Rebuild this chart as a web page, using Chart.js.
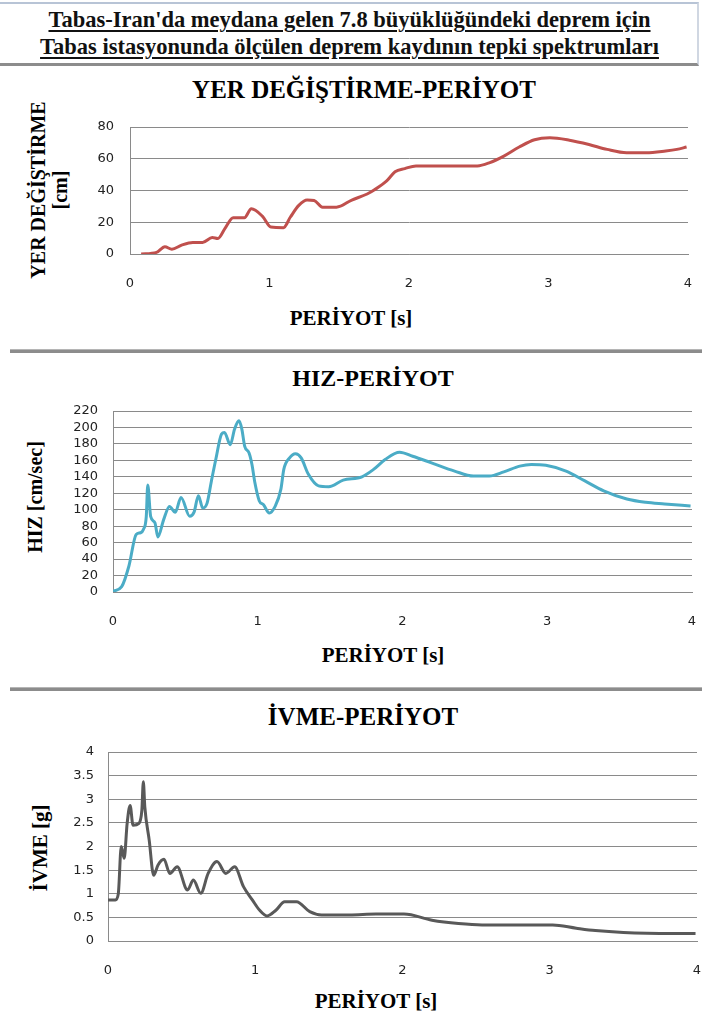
<!DOCTYPE html>
<html>
<head>
<meta charset="utf-8">
<script src="https://cdn.jsdelivr.net/npm/chart.js@4.4.1/dist/chart.umd.min.js"></script>
<style>
  html, body { margin: 0; padding: 0; background: #fff; }
  body { width: 702px; height: 1018px; position: relative; overflow: hidden; }
  .head {
    position: absolute; left: 0; top: 2px; width: 699px; height: 64px;
    border-top: 2px solid #b8c4d6; border-right: 2px solid #d0d7e2;
    border-bottom: 3px solid #8c8c8c; box-sizing: border-box;
  }
  .headline {
    position: absolute; left: 0; width: 699px; text-align: center; line-height: 26px;
    font: bold 22.5px "Liberation Serif", serif; color: #111;
    text-decoration: underline; text-decoration-thickness: 2px; text-underline-offset: 3px;
  }
  .sep { position: absolute; left: 10px; width: 692px; height: 4px; background: #8c8c8c; border-top: 1px solid #b5b5b5; box-sizing: border-box; }
  .ctitle, .xtitle, .ytitle { position: absolute; font-family: "Liberation Serif", serif; font-weight: bold; color: #000; white-space: nowrap; text-align: center; }
  .ctitle { font-size: 25px; line-height: 30px; }
  .xtitle { font-size: 21px; line-height: 24px; }
  .ytitle { line-height: 22px; transform: translate(-50%, -50%) rotate(-90deg); }
  canvas { position: absolute; left: 0; }
</style>
</head>
<body>
<div class="head"></div>
<div class="headline" style="top:7px">Tabas-Iran'da meydana gelen 7.8 büyüklüğündeki deprem için</div>
<div class="headline" style="top:34px">Tabas istasyonunda ölçülen deprem kaydının tepki spektrumları</div>

<div class="ctitle" style="left:0;width:728px;top:75px">YER DEĞİŞTİRME-PERİYOT</div>
<div class="ytitle" style="left:49px;top:190px;font-size:20px">YER DEĞİŞTİRME<br>[cm]</div>
<canvas id="dispChart" width="702" height="228" style="top:66px"></canvas>
<div class="xtitle" style="left:0;width:702px;top:306px;margin-left:-351px;left:351px">PERİYOT [s]</div>
<div class="sep" style="top:349px"></div>

<div class="ctitle" style="left:0;width:746px;top:363px;font-size:24px">HIZ-PERİYOT</div>
<div class="ytitle" style="left:35px;top:497px;font-size:20px">HIZ [cm/sec]</div>
<canvas id="velChart" width="702" height="278" style="top:354px"></canvas>
<div class="xtitle" style="width:702px;top:643px;margin-left:-351px;left:383px">PERİYOT [s]</div>
<div class="sep" style="top:687px"></div>

<div class="ctitle" style="left:0;width:726px;top:702px">İVME-PERİYOT</div>
<div class="ytitle" style="left:40px;top:848px;font-size:21px">İVME [g]</div>
<canvas id="accChart" width="702" height="290" style="top:691px"></canvas>
<div class="xtitle" style="width:702px;top:989px;margin-left:-351px;left:376px">PERİYOT [s]</div>

<script>
// periods [s] and spectral values
const dispPeriods = [0.08, 0.19, 0.25, 0.30, 0.37, 0.45, 0.52, 0.59, 0.63, 0.68, 0.74, 0.82, 0.87, 0.95, 1.01, 1.10, 1.15, 1.21, 1.27, 1.32, 1.38, 1.48, 1.59, 1.70, 1.75, 1.84, 1.90, 1.97, 2.05, 2.25, 2.49, 2.58, 2.68, 2.79, 2.90, 3.01, 3.15, 3.29, 3.42, 3.56, 3.70, 3.84, 3.92, 3.99];
const dispValues = [0, 1, 4.6, 3, 5.6, 7.3, 7.3, 10.4, 9.8, 16, 22.9, 22.9, 28.5, 23.7, 17, 16.6, 23.3, 30.6, 34, 33.7, 29.5, 29.5, 34, 37.8, 40.3, 46, 51.8, 53.8, 55.5, 55.5, 55.5, 57.6, 61.7, 67.4, 72, 73.2, 71.7, 69, 65.9, 63.8, 63.8, 64.9, 65.9, 67.4];

const velPeriods = [0, 0.06, 0.11, 0.16, 0.19, 0.21, 0.23, 0.24, 0.26, 0.29, 0.31, 0.35, 0.39, 0.43, 0.47, 0.53, 0.56, 0.59, 0.62, 0.65, 0.68, 0.71, 0.75, 0.77, 0.81, 0.84, 0.87, 0.89, 0.91, 0.94, 0.96, 0.98, 1.01, 1.04, 1.08, 1.12, 1.16, 1.18, 1.22, 1.26, 1.30, 1.35, 1.42, 1.49, 1.59, 1.72, 1.80, 1.88, 1.98, 2.07, 2.20, 2.36, 2.49, 2.60, 2.70, 2.81, 2.89, 2.99, 3.13, 3.26, 3.39, 3.55, 3.68, 3.81, 3.99];
const velValues = [1, 6.5, 31.6, 70, 72, 76, 92, 130, 92, 84, 67, 88, 104, 97, 115, 92, 97, 117, 102, 108, 135, 161, 192, 194, 179, 198, 208, 198, 177, 169, 155, 133, 111, 106, 96, 104, 125, 149, 163, 168, 163, 143, 129, 128, 136, 140, 149, 161, 170, 165, 157, 147, 141, 141, 146, 153, 155, 154, 147, 135, 123, 113, 109, 107, 104.5];

const accPeriods = [0, 0.05, 0.07, 0.09, 0.11, 0.13, 0.15, 0.17, 0.21, 0.23, 0.24, 0.25, 0.28, 0.31, 0.34, 0.38, 0.42, 0.47, 0.54, 0.58, 0.63, 0.68, 0.74, 0.80, 0.86, 0.92, 0.98, 1.03, 1.08, 1.14, 1.20, 1.28, 1.37, 1.45, 1.64, 1.82, 2.01, 2.20, 2.38, 2.54, 3.02, 3.18, 3.31, 3.50, 3.84, 3.99];
const accValues = [0.87, 0.87, 1.0, 2.0, 1.75, 2.49, 2.87, 2.45, 2.49, 2.77, 3.37, 2.84, 2.13, 1.39, 1.61, 1.73, 1.43, 1.57, 1.08, 1.29, 1.01, 1.43, 1.68, 1.43, 1.57, 1.15, 0.87, 0.65, 0.53, 0.65, 0.83, 0.83, 0.62, 0.55, 0.55, 0.57, 0.57, 0.44, 0.37, 0.34, 0.34, 0.27, 0.22, 0.18, 0.16, 0.16];

const periodTicks = [0, 1, 2, 3, 4];
const dispTicks = [0, 20, 40, 60, 80];
const velTicks = [0, 20, 40, 60, 80, 100, 120, 140, 160, 180, 200, 220];
const accTicks = [0, 0.5, 1, 1.5, 2, 2.5, 3, 3.5, 4];

const tickFont = { family: '"DejaVu Sans", Verdana, sans-serif', size: 13 };

function spectrumChart(id, periods, values, yTicks, s) {
    const ctx = document.getElementById(id).getContext('2d');
    new Chart(ctx, {
        type: 'line',
        data: {
            datasets: [{
                data: periods.map((t, i) => ({ x: t, y: values[i] })),
                borderColor: s.color,
                borderWidth: 3,
                pointRadius: 0,
                cubicInterpolationMode: 'monotone'
            }]
        },
        options: {
            responsive: false,
            animation: false,
            layout: { padding: { left: 0, right: s.right, top: s.top, bottom: 0 } },
            plugins: { legend: { display: false }, tooltip: { enabled: false } },
            scales: {
                x: {
                    type: 'linear',
                    min: 0, max: 4,
                    afterBuildTicks: sc => { sc.ticks = periodTicks.map(v => ({ value: v })); },
                    // invisible tick marks just push the labels down
                    grid: { display: true, drawOnChartArea: false, drawTicks: true, tickLength: 22, tickColor: 'rgba(0,0,0,0)' },
                    border: { display: true, color: '#8a8a8a', width: 1 },
                    ticks: { font: tickFont, color: '#222', padding: 0, maxRotation: 0 },
                    afterFit: sc => { sc.height = 40; }
                },
                y: {
                    min: yTicks[0], max: yTicks[yTicks.length - 1],
                    afterBuildTicks: sc => { sc.ticks = yTicks.map(v => ({ value: v })); },
                    grid: { color: '#8a8a8a', lineWidth: 1, drawTicks: true, tickLength: s.tickGap, tickColor: 'rgba(0,0,0,0)' },
                    border: { display: true, color: '#8a8a8a', width: 1 },
                    ticks: { font: tickFont, color: '#222', padding: 0, autoSkip: false, callback: v => String(v) },
                    afterFit: sc => { sc.width = s.left; }
                }
            }
        }
    });
}

spectrumChart('dispChart', dispPeriods, dispValues, dispTicks, {
    color: '#c0504d', top: 61, left: 130, right: 14, tickGap: 16
});

spectrumChart('velChart', velPeriods, velValues, velTicks, {
    color: '#4bacc6', top: 57, left: 113, right: 10, tickGap: 15
});

spectrumChart('accChart', accPeriods, accValues, accTicks, {
    color: '#595959', top: 61, left: 108, right: 5, tickGap: 14
});
</script>
</body>
</html>
